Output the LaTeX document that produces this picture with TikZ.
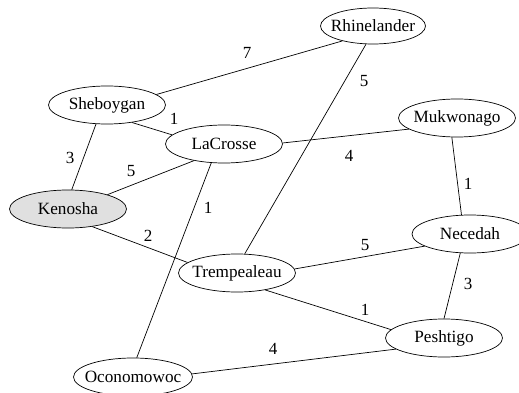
\documentclass[tikz,border=0pt]{standalone}
\usepackage{fontspec}
\setmainfont{Liberation Serif}
\usetikzlibrary{shapes.geometric}
\newcommand{\cityname}[1]{\makebox[0pt]{#1}}
\begin{document}
\begin{tikzpicture}[x=1pt,y=-1pt,
  city/.style={draw, ellipse, line width=0.7pt, inner sep=0pt, minimum width=117pt, minimum height=38pt, font=\fontsize{17.2}{19}\selectfont},
  road/.style={line width=0.7pt},
  wt/.style={font=\fontsize{17}{19}\selectfont, inner sep=0pt}]
\useasboundingbox (0,0) rectangle (519,393);
\node[city, minimum width=105pt, minimum height=36pt] (rh) at (373,26) {\cityname{Rhinelander}};
\node[city] (sh) at (107,105) {\cityname{Sheboygan}};
\node[city] (la) at (224,144) {\cityname{LaCrosse}};
\node[city] (mu) at (457,118) {\cityname{Mukwonago}};
\node[city, fill=black!12] (ke) at (68,209) {\cityname{Kenosha}};
\node[city] (tr) at (237,273) {\cityname{Trempealeau}};
\node[city, minimum width=116pt] (ne) at (470,234) {\cityname{Necedah}};
\node[city] (pe) at (444,338) {\cityname{Peshtigo}};
\node[city, minimum width=119pt] (oc) at (133,377) {\cityname{Oconomowoc}};
\draw[road] (sh.12) -- (rh.206);
\draw[road] (sh.325) -- (la.170);
\draw[road] (sh.240) -- (ke.79);
\draw[road] (la.209) -- (ke.20);
\draw[road] (la.1) -- (mu.193);
\draw[road] (la.236) -- (oc.79);
\draw[road] (rh.249) -- (tr.68);
\draw[road] (mu.255) -- (ne.114);
\draw[road] (ke.324) -- (tr.168);
\draw[road] (tr.4) -- (ne.195);
\draw[road] (tr.329) -- (pe.171);
\draw[road] (ne.243) -- (pe.90);
\draw[road] (oc.3) -- (pe.193);
\node[wt] (w1) at (247,53) {7};
\node[wt] (w2) at (174,119) {1};
\node[wt] (w3) at (70,158) {3};
\node[wt] (w4) at (131,171) {5};
\node[wt] (w5) at (349,156) {4};
\node[wt] (w6) at (208,208) {1};
\node[wt] (w7) at (364,81) {5};
\node[wt] (w8) at (468,184) {1};
\node[wt] (w9) at (148,236) {2};
\node[wt] (w10) at (365,245) {5};
\node[wt] (w11) at (365,310) {1};
\node[wt] (w12) at (468,284) {3};
\node[wt] (w13) at (273,349) {4};
\end{tikzpicture}
\end{document}
